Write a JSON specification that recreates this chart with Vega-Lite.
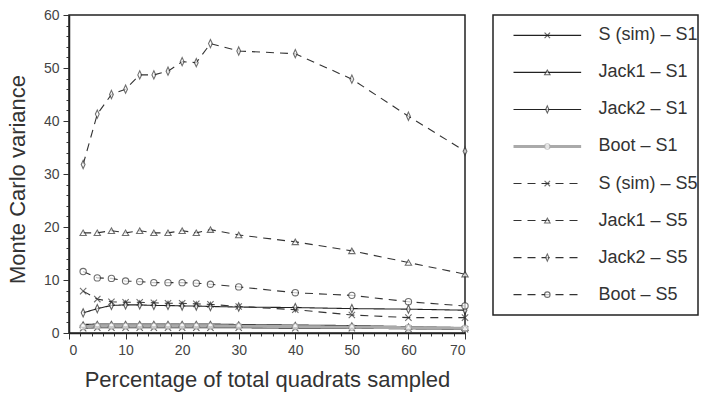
{
  "$schema": "https://vega.github.io/schema/vega-lite/v6.json",
  "padding": {"left": 5, "top": 7, "right": 2, "bottom": 2},
  "config": {
    "font": "Liberation Sans",
    "view": {"stroke": "#222", "strokeWidth": 1.5},
    "concat": {"spacing": 20}
  },
  "datasets": {
    "pts": [
      {"s":"S (sim) – S1","x":2.5,"v":0.9},{"s":"S (sim) – S1","x":5,"v":1.0},{"s":"S (sim) – S1","x":7.5,"v":1.0},{"s":"S (sim) – S1","x":10,"v":1.0},{"s":"S (sim) – S1","x":12.5,"v":1.0},{"s":"S (sim) – S1","x":15,"v":1.0},{"s":"S (sim) – S1","x":17.5,"v":1.0},{"s":"S (sim) – S1","x":20,"v":1.0},{"s":"S (sim) – S1","x":22.5,"v":1.0},{"s":"S (sim) – S1","x":25,"v":1.0},{"s":"S (sim) – S1","x":30,"v":1.0},{"s":"S (sim) – S1","x":40,"v":0.9},{"s":"S (sim) – S1","x":50,"v":0.9},{"s":"S (sim) – S1","x":60,"v":0.8},{"s":"S (sim) – S1","x":70,"v":0.7},
      {"s":"Jack1 – S1","x":2.5,"v":1.6},{"s":"Jack1 – S1","x":5,"v":1.7},{"s":"Jack1 – S1","x":7.5,"v":1.7},{"s":"Jack1 – S1","x":10,"v":1.7},{"s":"Jack1 – S1","x":12.5,"v":1.7},{"s":"Jack1 – S1","x":15,"v":1.7},{"s":"Jack1 – S1","x":17.5,"v":1.7},{"s":"Jack1 – S1","x":20,"v":1.7},{"s":"Jack1 – S1","x":22.5,"v":1.7},{"s":"Jack1 – S1","x":25,"v":1.7},{"s":"Jack1 – S1","x":30,"v":1.6},{"s":"Jack1 – S1","x":40,"v":1.5},{"s":"Jack1 – S1","x":50,"v":1.4},{"s":"Jack1 – S1","x":60,"v":1.2},{"s":"Jack1 – S1","x":70,"v":1.0},
      {"s":"Jack2 – S1","x":2.5,"v":3.8},{"s":"Jack2 – S1","x":5,"v":4.6},{"s":"Jack2 – S1","x":7.5,"v":5.2},{"s":"Jack2 – S1","x":10,"v":5.3},{"s":"Jack2 – S1","x":12.5,"v":5.3},{"s":"Jack2 – S1","x":15,"v":5.2},{"s":"Jack2 – S1","x":17.5,"v":5.2},{"s":"Jack2 – S1","x":20,"v":5.1},{"s":"Jack2 – S1","x":22.5,"v":5.1},{"s":"Jack2 – S1","x":25,"v":5.0},{"s":"Jack2 – S1","x":30,"v":4.9},{"s":"Jack2 – S1","x":40,"v":4.8},{"s":"Jack2 – S1","x":50,"v":4.6},{"s":"Jack2 – S1","x":60,"v":4.5},{"s":"Jack2 – S1","x":70,"v":4.3},
      {"s":"Boot – S1","x":2.5,"v":1.2},{"s":"Boot – S1","x":5,"v":1.3},{"s":"Boot – S1","x":7.5,"v":1.3},{"s":"Boot – S1","x":10,"v":1.3},{"s":"Boot – S1","x":12.5,"v":1.3},{"s":"Boot – S1","x":15,"v":1.3},{"s":"Boot – S1","x":17.5,"v":1.3},{"s":"Boot – S1","x":20,"v":1.3},{"s":"Boot – S1","x":22.5,"v":1.3},{"s":"Boot – S1","x":25,"v":1.3},{"s":"Boot – S1","x":30,"v":1.3},{"s":"Boot – S1","x":40,"v":1.2},{"s":"Boot – S1","x":50,"v":1.1},{"s":"Boot – S1","x":60,"v":1.0},{"s":"Boot – S1","x":70,"v":0.9},
      {"s":"S (sim) – S5","x":2.5,"v":7.9},{"s":"S (sim) – S5","x":5,"v":6.4},{"s":"S (sim) – S5","x":7.5,"v":5.9},{"s":"S (sim) – S5","x":10,"v":5.8},{"s":"S (sim) – S5","x":12.5,"v":5.8},{"s":"S (sim) – S5","x":15,"v":5.7},{"s":"S (sim) – S5","x":17.5,"v":5.6},{"s":"S (sim) – S5","x":20,"v":5.6},{"s":"S (sim) – S5","x":22.5,"v":5.5},{"s":"S (sim) – S5","x":25,"v":5.4},{"s":"S (sim) – S5","x":30,"v":5.0},{"s":"S (sim) – S5","x":40,"v":4.4},{"s":"S (sim) – S5","x":50,"v":3.4},{"s":"S (sim) – S5","x":60,"v":2.9},{"s":"S (sim) – S5","x":70,"v":2.9},
      {"s":"Jack1 – S5","x":2.5,"v":18.9},{"s":"Jack1 – S5","x":5,"v":18.9},{"s":"Jack1 – S5","x":7.5,"v":19.3},{"s":"Jack1 – S5","x":10,"v":18.9},{"s":"Jack1 – S5","x":12.5,"v":19.3},{"s":"Jack1 – S5","x":15,"v":18.9},{"s":"Jack1 – S5","x":17.5,"v":18.9},{"s":"Jack1 – S5","x":20,"v":19.3},{"s":"Jack1 – S5","x":22.5,"v":18.9},{"s":"Jack1 – S5","x":25,"v":19.5},{"s":"Jack1 – S5","x":30,"v":18.5},{"s":"Jack1 – S5","x":40,"v":17.2},{"s":"Jack1 – S5","x":50,"v":15.5},{"s":"Jack1 – S5","x":60,"v":13.3},{"s":"Jack1 – S5","x":70,"v":11.1},
      {"s":"Jack2 – S5","x":2.5,"v":31.8},{"s":"Jack2 – S5","x":5,"v":41.3},{"s":"Jack2 – S5","x":7.5,"v":45.0},{"s":"Jack2 – S5","x":10,"v":46.0},{"s":"Jack2 – S5","x":12.5,"v":48.7},{"s":"Jack2 – S5","x":15,"v":48.7},{"s":"Jack2 – S5","x":17.5,"v":49.4},{"s":"Jack2 – S5","x":20,"v":51.2},{"s":"Jack2 – S5","x":22.5,"v":51.0},{"s":"Jack2 – S5","x":25,"v":54.6},{"s":"Jack2 – S5","x":30,"v":53.2},{"s":"Jack2 – S5","x":40,"v":52.7},{"s":"Jack2 – S5","x":50,"v":47.9},{"s":"Jack2 – S5","x":60,"v":40.9},{"s":"Jack2 – S5","x":70,"v":34.3},
      {"s":"Boot – S5","x":2.5,"v":11.6},{"s":"Boot – S5","x":5,"v":10.4},{"s":"Boot – S5","x":7.5,"v":10.3},{"s":"Boot – S5","x":10,"v":9.8},{"s":"Boot – S5","x":12.5,"v":9.7},{"s":"Boot – S5","x":15,"v":9.5},{"s":"Boot – S5","x":17.5,"v":9.5},{"s":"Boot – S5","x":20,"v":9.5},{"s":"Boot – S5","x":22.5,"v":9.4},{"s":"Boot – S5","x":25,"v":9.2},{"s":"Boot – S5","x":30,"v":8.7},{"s":"Boot – S5","x":40,"v":7.6},{"s":"Boot – S5","x":50,"v":7.1},{"s":"Boot – S5","x":60,"v":5.9},{"s":"Boot – S5","x":70,"v":5.1}
    ],
    "leg": [
      {"s":"S (sim) – S1"},{"s":"Jack1 – S1"},{"s":"Jack2 – S1"},{"s":"Boot – S1"},
      {"s":"S (sim) – S5"},{"s":"Jack1 – S5"},{"s":"Jack2 – S5"},{"s":"Boot – S5"}
    ]
  },
  "hconcat": [
    {
      "width": 396,
      "height": 318,
      "data": {"name": "pts"},
      "encoding": {
        "x": {
          "field": "x", "type": "quantitative",
          "scale": {"domain": [0, 70], "nice": false},
          "axis": {
            "title": "Percentage of total quadrats sampled",
            "titleFontSize": 22, "titleFontWeight": "normal", "titleColor": "#333", "titlePadding": 12,
            "values": [0,2,4,6,8,10,12,14,16,18,20,22,24,26,28,30,32,34,36,38,40,42,44,46,48,50,52,54,56,58,60,62,64,66,68,70],
            "labelExpr": "datum.value % 10 === 0 ? datum.label : ''",
            "tickSize": {"condition": {"test": "datum.value % 10 === 0", "value": 6}, "value": 3},
            "labelFontSize": 14, "labelColor": "#444", "labelPadding": 4,
            "domainColor": "#222", "domainWidth": 1.5, "tickColor": "#333", "grid": false
          }
        },
        "y": {
          "field": "v", "type": "quantitative",
          "scale": {"domain": [0, 60], "nice": false},
          "axis": {
            "title": "Monte Carlo variance",
            "titleFontSize": 22, "titleFontWeight": "normal", "titleColor": "#333", "titlePadding": 14,
            "titleY": 164,
            "values": [0,2,4,6,8,10,12,14,16,18,20,22,24,26,28,30,32,34,36,38,40,42,44,46,48,50,52,54,56,58,60],
            "labelExpr": "datum.value % 10 === 0 ? datum.label : ''",
            "tickSize": {"condition": {"test": "datum.value % 10 === 0", "value": 6}, "value": 3},
            "labelFontSize": 14, "labelColor": "#444", "labelPadding": 4,
            "domainColor": "#222", "domainWidth": 1.5, "tickColor": "#333", "grid": false
          }
        }
      },
      "layer": [
        {
          "mark": {"type": "line"},
          "encoding": {
            "detail": {"field": "s"},
            "stroke": {
              "field": "s", "type": "nominal", "legend": null,
              "scale": {
                "domain": ["S (sim) – S1","Jack1 – S1","Jack2 – S1","Boot – S1","S (sim) – S5","Jack1 – S5","Jack2 – S5","Boot – S5"],
                "range": ["#222","#222","#222","#aaa","#333","#333","#333","#333"]
              }
            },
            "strokeDash": {
              "field": "s", "type": "nominal", "legend": null,
              "scale": {
                "domain": ["S (sim) – S1","Jack1 – S1","Jack2 – S1","Boot – S1","S (sim) – S5","Jack1 – S5","Jack2 – S5","Boot – S5"],
                "range": [[1,0],[1,0],[1,0],[1,0],[8,6],[8,6],[8,6],[8,6]]
              }
            },
            "strokeWidth": {"condition": {"test": "datum.s === 'Boot – S1'", "value": 3}, "value": 1.1}
          }
        },
        {
          "mark": {"type": "point", "fill": "white", "filled": false, "size": 40, "strokeWidth": 1.1},
          "encoding": {
            "stroke": {"field": "s", "type": "nominal", "legend": null},
            "shape": {
              "field": "s", "type": "nominal", "legend": null,
              "scale": {
                "domain": ["S (sim) – S1","Jack1 – S1","Jack2 – S1","Boot – S1","S (sim) – S5","Jack1 – S5","Jack2 – S5","Boot – S5"],
                "range": ["M-1,-1L1,1M-1,1L1,-1","triangle-up","M0,-1.3L0.6,0L0,1.3L-0.6,0Z","circle","M-1,-1L1,1M-1,1L1,-1","triangle-up","M0,-1.3L0.6,0L0,1.3L-0.6,0Z","circle"]
              }
            }
          }
        }
      ]
    },
    {
      "width": 205,
      "height": 300,
      "data": {"name": "leg"},
      "encoding": {
        "y": {
          "field": "s", "type": "nominal", "axis": null,
          "sort": ["S (sim) – S1","Jack1 – S1","Jack2 – S1","Boot – S1","S (sim) – S5","Jack1 – S5","Jack2 – S5","Boot – S5"],
          "scale": {"type": "point", "padding": 0.55}
        }
      },
      "layer": [
        {
          "mark": {"type": "rule"},
          "encoding": {
            "x": {"datum": 0.1, "type": "quantitative", "scale": {"domain": [0, 1], "nice": false}, "axis": null},
            "x2": {"datum": 0.43},
            "stroke": {
              "field": "s", "type": "nominal", "legend": null,
              "scale": {
                "domain": ["S (sim) – S1","Jack1 – S1","Jack2 – S1","Boot – S1","S (sim) – S5","Jack1 – S5","Jack2 – S5","Boot – S5"],
                "range": ["#222","#222","#222","#aaa","#333","#333","#333","#333"]
              }
            },
            "strokeDash": {
              "field": "s", "type": "nominal", "legend": null,
              "scale": {
                "domain": ["S (sim) – S1","Jack1 – S1","Jack2 – S1","Boot – S1","S (sim) – S5","Jack1 – S5","Jack2 – S5","Boot – S5"],
                "range": [[1,0],[1,0],[1,0],[1,0],[8,6],[8,6],[8,6],[8,6]]
              }
            },
            "strokeWidth": {"condition": {"test": "datum.s === 'Boot – S1'", "value": 3}, "value": 1.1}
          }
        },
        {
          "mark": {"type": "point", "fill": "white", "filled": false, "size": 30, "strokeWidth": 1.1},
          "encoding": {
            "x": {"datum": 0.265, "type": "quantitative"},
            "stroke": {"field": "s", "type": "nominal", "legend": null},
            "shape": {
              "field": "s", "type": "nominal", "legend": null,
              "scale": {
                "domain": ["S (sim) – S1","Jack1 – S1","Jack2 – S1","Boot – S1","S (sim) – S5","Jack1 – S5","Jack2 – S5","Boot – S5"],
                "range": ["M-1,-1L1,1M-1,1L1,-1","triangle-up","M0,-1.3L0.6,0L0,1.3L-0.6,0Z","circle","M-1,-1L1,1M-1,1L1,-1","triangle-up","M0,-1.3L0.6,0L0,1.3L-0.6,0Z","circle"]
              }
            }
          }
        },
        {
          "mark": {"type": "text", "align": "left", "baseline": "middle", "fontSize": 18, "color": "#333"},
          "encoding": {
            "x": {"datum": 0.515, "type": "quantitative"},
            "text": {"field": "s"}
          }
        }
      ]
    }
  ]
}
